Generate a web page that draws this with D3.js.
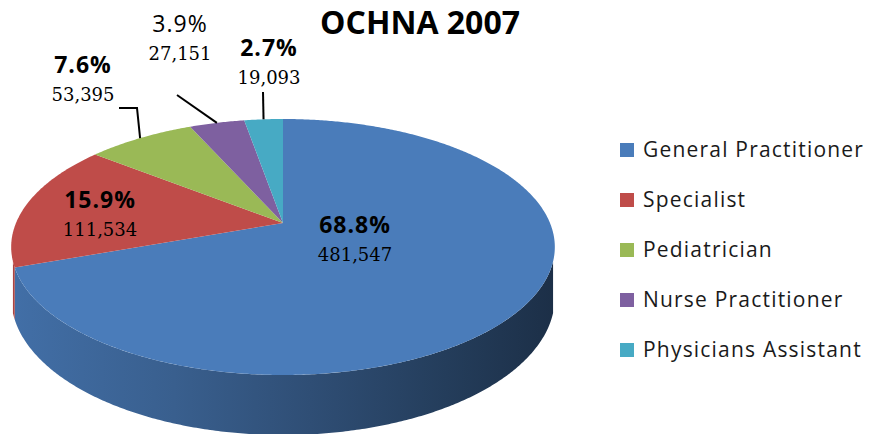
<!DOCTYPE html>
<html>
<head>
<meta charset="utf-8">
<script src="https://cdn.jsdelivr.net/npm/d3@7"></script>
<style>
  body { margin: 0; background: #fff; }
  svg { display: block; }
</style>
</head>
<body>
<div id="chart"></div>
<script>
// Data
const categories = ["General Practitioner", "Specialist", "Pediatrician", "Nurse Practitioner", "Physicians Assistant"];
const values = [481547, 111534, 53395, 27151, 19093];
const percentLabels = ["68.8%", "15.9%", "7.6%", "3.9%", "2.7%"];
const colors = ["#4a7cba", "#bf4c49", "#9ab956", "#7e60a0", "#47aac4"];

// Label layout (text centre x, baseline of the percentage) and leader lines
const labelPos = [[355, 233], [100, 208], [83, 73], [180, 32], [269, 56]];
const leaderPts = [null, null, [[119, 108], [137, 108]], [[177, 95]], [[263, 92]]];
const boldPct = [true, true, true, false, true];

const width = 870;
const height = 434;

const svg = d3.select("#chart")
  .append("svg")
  .attr("width", width)
  .attr("height", height);

// perspective projection of the pie disk
const cx = 283, cy = 223;   // apex of the slices
const A = 267, B = 123.5;   // radii before perspective
const p = 0.1875;           // perspective strength
const depth = 48.75;        // thickness of the pie

function proj(a, f = 1) {
  const s = Math.sin(a) * f;
  const c = Math.cos(a) * f;
  const w = 1 + p * c;
  return [cx + (A * s) / w, cy - (B * c) / w];
}
function projBottom(a) {
  const w = 1 + p * Math.cos(a);
  const pt = proj(a);
  return [pt[0], pt[1] + depth / w];
}

const pie = d3.pie().sort(null).value((d) => d)(values);

function arcPoints(a0, a1, fn) {
  const n = Math.max(2, Math.ceil(((a1 - a0) * 180) / Math.PI / 0.5));
  const pts = [];
  for (let i = 0; i <= n; i++) pts.push(fn(a0 + ((a1 - a0) * i) / n));
  return pts;
}

const line = d3.line();

// gradients for the sides
const defs = svg.append("defs");
colors.forEach((c, i) => {
  const g = defs.append("linearGradient")
    .attr("id", "side" + i)
    .attr("gradientUnits", "userSpaceOnUse")
    .attr("x1", cx - A * 1.02).attr("x2", cx + A * 1.02)
    .attr("y1", 0).attr("y2", 0);
  [[0, 0.3], [0.3, 0.75], [0.55, 1.3], [0.8, 2.0], [1, 2.7]].forEach(([o, k]) => {
    g.append("stop").attr("offset", o).attr("stop-color", d3.color(c).darker(k));
  });
});

// visible part of the side runs between the two silhouette angles
const silL = Math.PI - Math.acos(p) * 0.92;   // right silhouette
const silR = Math.PI + Math.acos(p) * 0.92;   // left silhouette

pie.forEach((d, i) => {
  const lo = Math.max(d.startAngle, silL);
  const hi = Math.min(d.endAngle, silR);
  if (hi <= lo) return;
  const top = arcPoints(lo, hi, (a) => proj(a));
  const bot = arcPoints(lo, hi, projBottom).reverse();
  svg.append("path")
    .attr("d", line(top.concat(bot)) + "Z")
    .attr("fill", `url(#side${i})`);
});

// top face
pie.forEach((d, i) => {
  const pts = [[cx, cy]].concat(arcPoints(d.startAngle, d.endAngle, (a) => proj(a)));
  svg.append("path")
    .attr("d", line(pts) + "Z")
    .attr("fill", colors[i]);
});

// leader lines
pie.forEach((d, i) => {
  if (!leaderPts[i]) return;
  const rim = proj((d.startAngle + d.endAngle) / 2);
  svg.append("path")
    .attr("d", line(leaderPts[i].concat([rim])))
    .attr("fill", "none")
    .attr("stroke", "#000")
    .attr("stroke-width", 2);
});

// data labels
const fmt = d3.format(",");
pie.forEach((d, i) => {
  const [x, y] = labelPos[i];
  svg.append("text")
    .attr("x", x)
    .attr("y", y)
    .attr("text-anchor", "middle")
    .style("font-family", "'Open Sans', sans-serif")
    .style("font-weight", boldPct[i] ? "bold" : "normal")
    .style("font-size", "23px")
    .style("letter-spacing", "1px")
    .style("fill", "#000")
    .text(percentLabels[i]);
  svg.append("text")
    .attr("x", x)
    .attr("y", y + 28)
    .attr("text-anchor", "middle")
    .style("font-family", "'DejaVu Serif', serif")
    .style("font-size", "18px")
    .style("fill", "#000")
    .text(fmt(values[i]));
});

// title
svg.append("text")
  .attr("x", 420)
  .attr("y", 34)
  .attr("text-anchor", "middle")
  .style("font-family", "'Open Sans', sans-serif")
  .style("font-weight", "bold")
  .style("font-size", "32px")
  .style("fill", "#000")
  .text("OCHNA 2007");

// legend
const legend = svg.append("g").attr("transform", "translate(620,157)");
categories.forEach((name, i) => {
  legend.append("rect")
    .attr("x", 0)
    .attr("y", i * 50 - 14)
    .attr("width", 14)
    .attr("height", 14)
    .attr("fill", colors[i]);
  legend.append("text")
    .attr("x", 23)
    .attr("y", i * 50)
    .style("font-family", "'Open Sans', sans-serif")
    .style("font-size", "21px")
    .style("letter-spacing", "1.2px")
    .style("fill", "#1a1a1a")
    .text(name);
});
</script>
</body>
</html>
